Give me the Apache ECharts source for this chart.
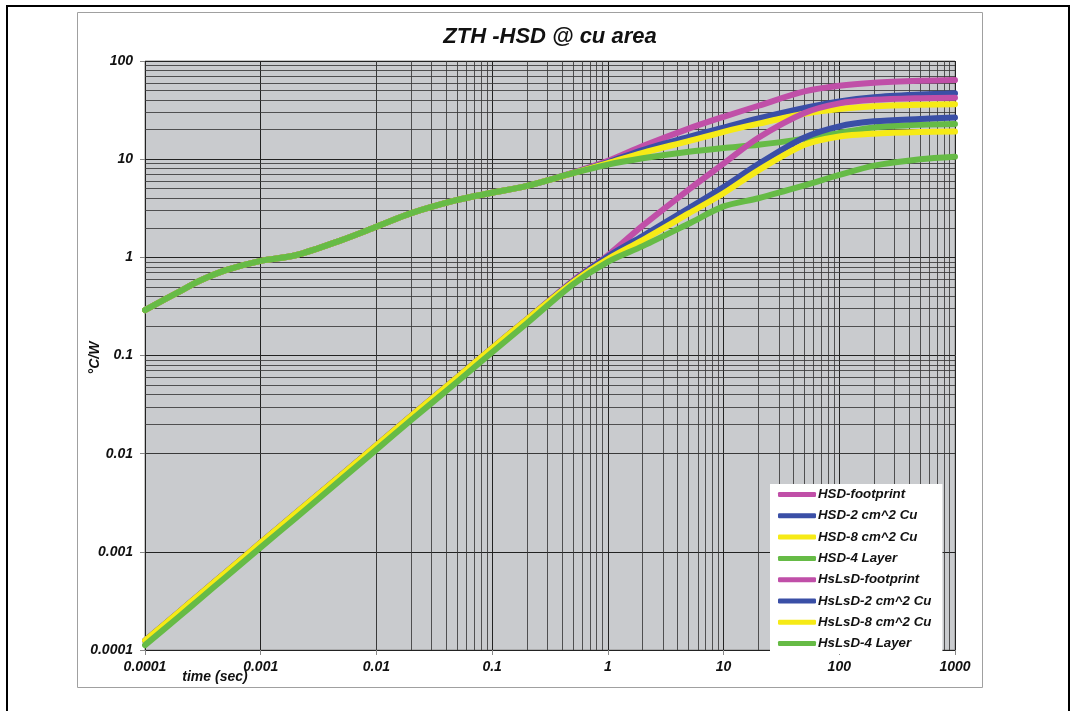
<!DOCTYPE html>
<html>
<head>
<meta charset="utf-8">
<script src="https://cdn.jsdelivr.net/npm/echarts@6/dist/echarts.min.js"></script>
<style>
html,body{margin:0;padding:0;background:#fff;}
#chart{width:1080px;height:711px;}
</style>
</head>
<body>
<div id="chart"></div>
<script>
// ---- data ----
const times = [1e-4, 2e-4, 3e-4, 5e-4, 1e-3, 2e-3, 5e-3, 0.01, 0.02, 0.05, 0.1, 0.2, 0.5, 1, 2, 5, 10, 20, 50, 100, 200, 500, 1000];

const hsdFootprint = [0.29, 0.45, 0.58, 0.74, 0.92, 1.05, 1.5, 2.05, 2.82, 3.85, 4.55, 5.35, 7.3, 9.6, 13.6, 20.5, 27, 35, 49, 56, 60, 62.8, 64];
const hsd2cm       = [0.29, 0.45, 0.58, 0.74, 0.92, 1.05, 1.5, 2.05, 2.82, 3.85, 4.55, 5.35, 7.25, 9.3, 12.4, 16.9, 21, 26, 33.3, 38.8, 42.7, 45.5, 47];
const hsd8cm       = [0.29, 0.45, 0.58, 0.74, 0.92, 1.05, 1.5, 2.05, 2.82, 3.85, 4.55, 5.35, 7.2, 9.1, 11.6, 15.3, 19, 23, 29, 32.4, 34.5, 35.8, 36.3];
const hsd4Layer    = [0.29, 0.45, 0.58, 0.74, 0.92, 1.05, 1.5, 2.05, 2.82, 3.85, 4.55, 5.35, 7.2, 8.8, 10.2, 11.9, 13, 14, 16.2, 18.5, 21, 22.4, 22.8];

const hslsdFootprint = [1.25e-4, 2.48e-4, 3.72e-4, 6.2e-4, 1.24e-3, 2.47e-3, 6.1e-3, 1.22e-2, 2.43e-2, 6.0e-2, 0.119, 0.234, 0.58, 1.05, 2.1, 4.9, 9.0, 16.5, 29.5, 37, 40.2, 41.8, 42.3];
const hslsd2cm       = [1.25e-4, 2.48e-4, 3.72e-4, 6.2e-4, 1.24e-3, 2.47e-3, 6.1e-3, 1.22e-2, 2.43e-2, 6.0e-2, 0.119, 0.234, 0.57, 1.02, 1.65, 3.16, 5.2, 8.9, 16.6, 21.6, 24.3, 25.7, 26.5];
const hslsd8cm       = [1.25e-4, 2.48e-4, 3.72e-4, 6.2e-4, 1.24e-3, 2.47e-3, 6.1e-3, 1.22e-2, 2.43e-2, 6.0e-2, 0.119, 0.234, 0.56, 0.96, 1.5, 2.8, 4.5, 7.7, 14.0, 17.0, 18.2, 18.9, 19.1];
const hslsd4Layer    = [1.12e-4, 2.22e-4, 3.33e-4, 5.55e-4, 1.11e-3, 2.2e-3, 5.5e-3, 1.1e-2, 2.2e-2, 5.4e-2, 0.108, 0.213, 0.53, 0.9, 1.3, 2.2, 3.3, 4.0, 5.4, 6.9, 8.6, 10.0, 10.6];

const seriesNames = ['HSD-footprint', 'HSD-2 cm^2 Cu', 'HSD-8 cm^2 Cu', 'HSD-4 Layer',
                     'HsLsD-footprint', 'HsLsD-2 cm^2 Cu', 'HsLsD-8 cm^2 Cu', 'HsLsD-4 Layer'];
const seriesValues = [hsdFootprint, hsd2cm, hsd8cm, hsd4Layer, hslsdFootprint, hslsd2cm, hslsd8cm, hslsd4Layer];
const seriesColors = ['#c04fa8', '#3a4fa6', '#f6ea16', '#66bb46', '#c04fa8', '#3a4fa6', '#f6ea16', '#66bb46'];

const xMin = 0.0001, xMax = 1000;
const yMin = 0.0001, yMax = 100;
const titleText = 'ZTH -HSD @ cu area';
const xName = 'time (sec)';
const yName = '°C/W';

// ---- minor grid positions (2..9 x 10^k) ----
function minors(lo, hi) {
  const out = [];
  for (let e = Math.round(Math.log10(lo)); e < Math.round(Math.log10(hi)); e++) {
    for (let m = 2; m <= 9; m++) out.push(+(m * Math.pow(10, e)).toPrecision(6));
  }
  return out;
}
const xMinors = minors(xMin, xMax);
const yMinors = minors(yMin, yMax);

function fmt(v) {
  const e = Math.round(Math.log10(v));
  return e < 0 ? Math.pow(10, e).toFixed(-e) : String(Math.round(Math.pow(10, e)));
}

const FONT = 'Liberation Sans, Arial, sans-serif';
const labelStyle = {fontFamily: FONT, fontWeight: 'bold', fontStyle: 'italic', fontSize: 14, color: '#111'};

const series = seriesNames.map((name, i) => ({
  name: name,
  type: 'line',
  z: 3,
  smooth: 0.3,
  symbol: 'none',
  showSymbol: false,
  data: times.map((t, k) => [t, seriesValues[i][k]]),
  lineStyle: {color: seriesColors[i], width: 6, cap: 'round', join: 'round'},
  itemStyle: {color: seriesColors[i]},
  animation: false
}));

series.unshift({
  name: '_grid',
  type: 'line',
  z: 1,
  data: [[xMin, yMin]],
  symbol: 'none',
  showSymbol: false,
  lineStyle: {opacity: 0},
  silent: true,
  animation: false,
  markLine: {
    z: 1,
    silent: true,
    symbol: ['none', 'none'],
    label: {show: false},
    animation: false,
    lineStyle: {color: '#3a3a3a', width: 1, type: 'solid', opacity: 0.85},
    emphasis: {disabled: true},
    data: xMinors.map(v => ({xAxis: v})).concat(yMinors.map(v => ({yAxis: v})))
  }
});

const chart = echarts.init(document.getElementById('chart'), null, {renderer: 'canvas'});
chart.setOption({
  backgroundColor: '#ffffff',
  animation: false,
  grid: {left: 145, top: 61, width: 810, height: 589, show: true, backgroundColor: '#c9cbce', borderColor: '#8c8c8c', borderWidth: 1, containLabel: false},
  xAxis: {
    type: 'log', logBase: 10, min: xMin, max: xMax,
    axisLine: {show: false},
    axisTick: {show: true, length: 5, lineStyle: {color: '#888'}},
    axisLabel: Object.assign({margin: 10, formatter: fmt, showMinLabel: true, showMaxLabel: true}, labelStyle),
    splitLine: {show: true, lineStyle: {color: '#222', width: 1}},
    minorTick: {show: false}
  },
  yAxis: {
    type: 'log', logBase: 10, min: yMin, max: yMax,
    axisLine: {show: false},
    axisTick: {show: true, length: 5, lineStyle: {color: '#888'}},
    axisLabel: Object.assign({margin: 12, formatter: fmt}, labelStyle),
    splitLine: {show: true, lineStyle: {color: '#222', width: 1}}
  },
  legend: {
    data: seriesNames,
    orient: 'vertical',
    left: 770, top: 484,
    backgroundColor: '#ffffff',
    borderWidth: 0,
    padding: [3, 11, 3, 8],
    itemGap: 6.3,
    itemWidth: 38, itemHeight: 5,
    icon: 'roundRect',
    selectedMode: false,
    textStyle: {fontFamily: FONT, fontWeight: 'bold', fontStyle: 'italic', fontSize: 13.3, color: '#111', lineHeight: 15, padding: [0, 0, 0, -3]}
  },
  graphic: [
    {type: 'rect', silent: true, z: -10, shape: {x: 7, y: 6, width: 1062, height: 720}, style: {fill: null, stroke: '#000', lineWidth: 2}},
    {type: 'rect', silent: true, z: -9, shape: {x: 77.5, y: 12.5, width: 905, height: 675}, style: {fill: null, stroke: '#a0a0a0', lineWidth: 1}},
    {type: 'text', silent: true, x: 550, y: 37, style: {text: titleText, fontFamily: FONT, fontWeight: 'bold', fontStyle: 'italic', fontSize: 22, fill: '#111', align: 'center', verticalAlign: 'middle'}},
    {type: 'text', silent: true, x: 215, y: 677, style: {text: xName, fontFamily: FONT, fontWeight: 'bold', fontStyle: 'italic', fontSize: 14, fill: '#111', align: 'center', verticalAlign: 'middle'}},
    {type: 'text', silent: true, x: 95, y: 358, rotation: Math.PI / 2, style: {text: yName, fontFamily: FONT, fontWeight: 'bold', fontStyle: 'italic', fontSize: 14, fill: '#111', align: 'center', verticalAlign: 'middle'}}
  ],
  series: series
});
</script>
</body>
</html>
